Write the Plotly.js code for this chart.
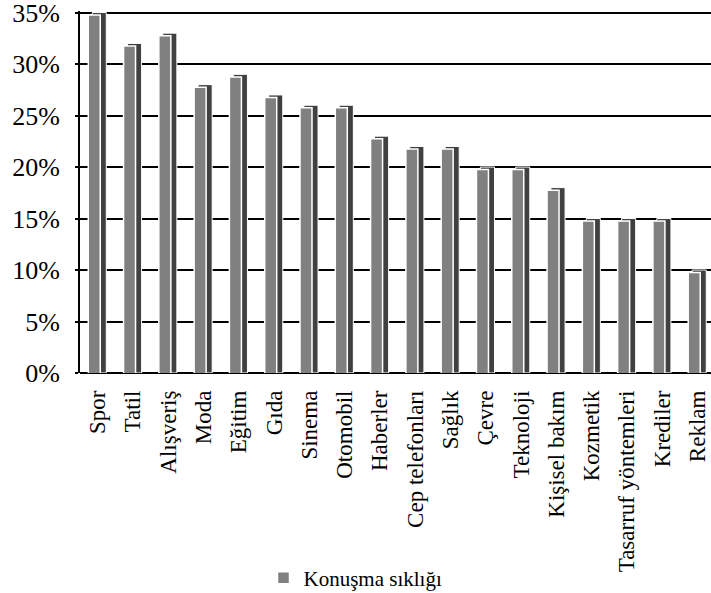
<!DOCTYPE html>
<html>
<head>
<meta charset="utf-8">
<script src="https://cdn.plot.ly/plotly-3.0.1.min.js"></script>
<style>html,body{margin:0;padding:0;background:#fff;}#chart{width:711px;height:593px;}</style>
</head>
<body>
<div id="chart"></div>
<script>
const categories = ["Spor","Tatil","Alışveriş","Moda","Eğitim","Gıda","Sinema","Otomobil","Haberler","Cep telefonları","Sağlık","Çevre","Teknoloji","Kişisel bakım","Kozmetik","Tasarruf yöntemleri","Krediler","Reklam"];
const values = [35,32,33,28,29,27,26,26,23,22,22,20,20,18,15,15,15,10];
const seriesName = "Konuşma sıklığı";
const yTickVals = [0,5,10,15,20,25,30,35];
const yTickText = ["0%","5%","10%","15%","20%","25%","30%","35%"];

const FONT = "'Liberation Serif', 'Times New Roman', serif";
const idx = categories.map((_, i) => i);

// back (3D depth) bar on the main axis
const back = {
  type: "bar", x: idx, y: values,
  width: 0.4, offset: -0.155,
  marker: {color: "#404040", line: {color: "#ffffff", width: 1}},
  showlegend: false, hoverinfo: "skip"
};
// front face on an overlaid axis, drawn slightly lower
const front = {
  type: "bar", x: idx, y: values, yaxis: "y2", name: seriesName,
  width: 0.34, offset: -0.266,
  marker: {color: "#808080", line: {color: "#ffffff", width: 1.5}},
  hovertemplate: "%{text}: %{y}%<extra></extra>",
  text: categories, textposition: "none"
};

const layout = {
  width: 711, height: 593,
  paper_bgcolor: "#fff", plot_bgcolor: "#fff",
  margin: {l: 80, r: 0, t: 11, b: 220, autoexpand: false},
  barmode: "overlay",
  font: {family: FONT, color: "#000"},
  xaxis: {
    range: [-0.5, 17.38],
    tickvals: idx, ticktext: categories,
    tickangle: -90, ticks: "", ticklabelstandoff: 12,
    tickfont: {family: FONT, size: 23, color: "#000"},
    showgrid: false, zeroline: false, showline: false, fixedrange: true
  },
  yaxis: {
    range: [0, 35.15],
    tickvals: yTickVals, ticktext: yTickText,
    tickfont: {family: FONT, size: 26, color: "#000"},
    ticklabeloverflow: "allow",
    ticks: "outside", ticklen: 3, tickwidth: 2, tickcolor: "#000",
    ticklabelstandoff: 10,
    showgrid: true, gridcolor: "#000", gridwidth: 2,
    zeroline: true, zerolinecolor: "#000", zerolinewidth: 2,
    showline: true, linecolor: "#000", linewidth: 2, fixedrange: true
  },
  yaxis2: {
    overlaying: "y", range: [0.25, 35.4], visible: false, fixedrange: true
  },
  showlegend: true,
  legend: {
    orientation: "h", xref: "container", yref: "container",
    x: 0.5, xanchor: "center", y: 0.025, yanchor: "middle",
    font: {family: FONT, size: 21, color: "#000"},
    bgcolor: "rgba(0,0,0,0)"
  }
};

Plotly.newPlot("chart", [back, front], layout, {displayModeBar: false});
</script>
</body>
</html>
